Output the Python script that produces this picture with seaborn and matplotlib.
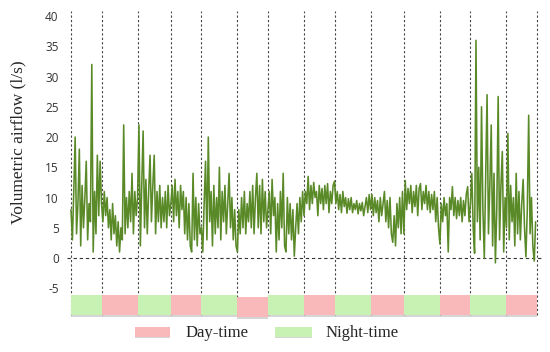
import numpy as np
import pandas as pd
import matplotlib
matplotlib.use("Agg")
import matplotlib.pyplot as plt
from matplotlib.patches import Rectangle
import seaborn as sns

# ---------------- data ----------------
# period boundaries (hours) - alternating night / day
boundaries = [0, 11, 24, 36, 47, 60, 71, 84, 95, 108, 120, 133, 144, 157, 168]
period_kind = ["Night-time", "Day-time"] * 7
sample_step_h = 0.5

p01 = [8, 3, 11, 20, 4, 9, 18, 2, 12, 5, 10, 16, 3, 9, 6, 32, 1, 11, 4, 17, 7, 16]
p02 = [9, 6, 11, 7, 10, 5, 8, 3, 9, 4, 7, 2, 6, 1, 5, 3, 22, 4, 10, 5, 11, 6, 14, 4, 11, 7]
p03 = [10, 22, 2, 12, 21, 5, 13, 4, 11, 17, 6, 12, 17, 4, 11, 6, 12, 5, 10, 6, 11, 5, 12, 7]
p04 = [9, 12, 6, 13, 7, 11, 5, 12, 8, 11, 4, 10, 3, 9, 2, 1, 14, 3, 10, 2, 9, 4]
p05 = [5, 1, 9, 16, 3, 20, 6, 11, 2, 12, 4, 10, 5, 15, 3, 11, 6, 12, 4, 9, 14, 5, 10, 3, 8, 2]
p06 = [1, 8, 4, 10, 5, 11, 4, 9, 6, 11, 5, 12, 4, 10, 14, 5, 12, 4, 13, 6, 11, 5]
p07 = [8, 11, 4, 13, 7, 10, 1, 9, 3, 11, 5, 14, 2, 1, 10, 4, 9, 3, 8, 0.3, 5, 9, 4, 10, 6, 11]
p08 = [7, 11, 9, 13.5, 8, 12, 9, 12.5, 10, 11, 7, 12, 9, 11.5, 8, 12, 9, 12.3, 7.5, 11, 9, 12]
p09 = [12.7, 9, 11, 8, 10.5, 7.5, 11, 8.5, 10, 7.4, 9.8, 8, 10, 7.5, 9, 8, 9.5, 7.3, 9, 7.8,
       9.2, 7, 8.5, 10, 7.5, 10.5]
p10 = [8, 10.5, 7, 10, 7.5, 9.5, 6, 10, 7, 9, 11, 6, 9.5, 5, 10, 4, 2.6, 7, 2, 9, 5, 10, 4, 11]
p11 = [4, 12.8, 8, 11.5, 9, 12, 7.5, 11, 8.5, 12, 7, 11.5, 12.3, 8, 11, 9, 12, 8, 11, 7.5,
       10.5, 8, 11, 6, 10, 5]
p12 = [2.3, 9, 6, 10, 7, 9, 1, 10, 8, 11.8, 7, 10, 6.5, 9.5, 7, 10, 6, 9.5, 7, 10.5, 11.8, 6]
p13 = [9, 14, 5, 0.8, 36, 6, 15, 3, 25, 8, 0, 13, 27, 4, 12, 22, 2, 14, -0.8, 8, 26.7, 3, 12,
       17.6, 1, 10]
p14 = [5, 20.6, 3, 12, 6, 10, 2, 14, 4, 11, 3, 9, 13, 5, 0.2, 8, 23.6, 4, 10, 2, -0.5, 6]

airflow = p01 + p02 + p03 + p04 + p05 + p06 + p07 + p08 + p09 + p10 + p11 + p12 + p13 + p14
time_h = np.arange(len(airflow)) * sample_step_h

y_ticks = [-5, 0, 5, 10, 15, 20, 25, 30, 35, 40]
y_label = "Volumetric airflow (l/s)"
legend_labels = ["Day-time", "Night-time"]

df = pd.DataFrame({"time": time_h, "airflow": airflow})

# ---------------- style ----------------
sns.set_theme(style="white")
plt.rcParams["font.family"] = ["DejaVu Sans"]

line_color = "#5a8a28"
colors = {"Night-time": "#c8f1b4", "Day-time": "#f9b8ba"}
shadow = "#b9b9b9"
serif = ["Liberation Serif", "DejaVu Serif"]

fig = plt.figure(figsize=(5.5, 3.52), dpi=100)
# axes spans x 67..543 px, y 7..318.5 px
ax = fig.add_axes([67 / 550, 1 - 318.5 / 352, (543 - 67) / 550, (318.5 - 7) / 352])

px_per_h = (537 - 71) / 168.0
ax.set_xlim(-4 / px_per_h, 168 + 6 / px_per_h)
ax.set_ylim(-10, 41.5)

# vertical dashed separators
for b in boundaries:
    ax.plot([b, b], [-9.4, 40.8], color="#444444", lw=0.8, ls=(0, (2, 2)), zorder=1)
# zero line
ax.axhline(0, color="#333333", lw=0.8, ls=(0, (3, 2.5)), zorder=1)

sns.lineplot(data=df, x="time", y="airflow", ax=ax, color=line_color, lw=1.15,
             estimator=None, zorder=3, legend=False)

# day / night band
offsets = [0, 0, 0, 0, 0, -0.4, 0, 0, 0, 0, 0, 0, 0, 0]
for i, kind in enumerate(period_kind):
    x0, x1 = boundaries[i], boundaries[i + 1]
    y0 = -9.4 + offsets[i]
    ax.add_patch(Rectangle((x0, y0 - 0.3), x1 - x0, 3.3, color=shadow, lw=0, zorder=4,
                           alpha=0.6))
    ax.add_patch(Rectangle((x0, y0), x1 - x0, 3.3, color=colors[kind], lw=0, zorder=5))

ax.set_yticks(y_ticks)
ax.set_yticklabels([str(t) for t in y_ticks], fontsize=8.5, color="#333333",
                   family=["Open Sans", "DejaVu Sans"])
ax.tick_params(axis="y", length=0, pad=6)
ax.set_xticks([])
ax.set_xlabel("")
ax.set_ylabel("")
for s in ax.spines.values():
    s.set_visible(False)

fig.text(18 / 550, 1 - 142 / 352, y_label, rotation=90, ha="center", va="center",
         fontsize=12.5, family=serif)

# legend
def legend_box(x0, x1, kind):
    fig.patches.append(Rectangle((x0 / 550, 1 - 338 / 352), (x1 - x0) / 550, 2 / 352,
                                 transform=fig.transFigure, color=shadow, lw=0, alpha=0.6))
    fig.patches.append(Rectangle((x0 / 550, 1 - 337 / 352), (x1 - x0) / 550, 10 / 352,
                                 transform=fig.transFigure, color=colors[kind], lw=0))

legend_box(135, 170, "Day-time")
fig.text(186 / 550, 1 - 333 / 352, legend_labels[0], ha="left", va="center", fontsize=12,
         family=serif)
legend_box(275, 312, "Night-time")
fig.text(326 / 550, 1 - 333 / 352, legend_labels[1], ha="left", va="center", fontsize=12,
         family=serif)

fig.savefig("out.png", dpi=100)
